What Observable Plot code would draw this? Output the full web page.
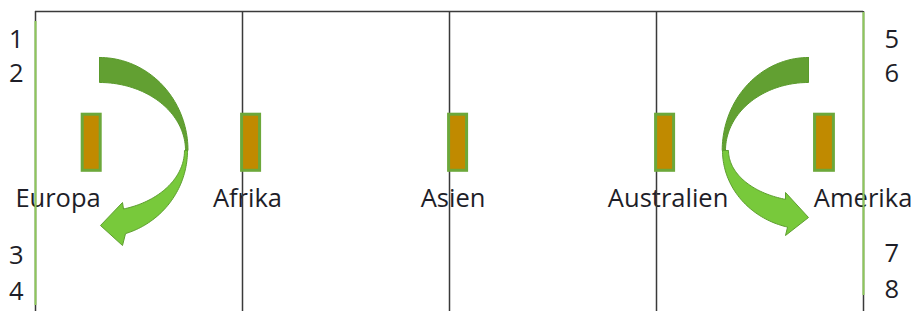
<!DOCTYPE html>
<html>
<head>
<meta charset="utf-8">
<script src="https://cdn.jsdelivr.net/npm/d3@7"></script>
<script src="https://cdn.jsdelivr.net/npm/@observablehq/plot@0.6"></script>
<style>
  html, body { margin: 0; padding: 0; background: #fff; }
  #chart svg { display: block; }
</style>
</head>
<body>
<div id="chart"></div>
<script>
// ---- data ----
const categories = ["Europa", "Afrika", "Asien", "Australien", "Amerika"];
const barStart   = [0.228, 0.998, 1.998, 2.998, 3.766];
const barEnd     = [0.315, 1.085, 2.085, 3.085, 3.857];
const barLow     = [46.9, 46.9, 46.9, 46.9, 46.9];
const barHigh    = [65.6, 65.6, 65.6, 65.6, 65.6];
const labelPos   = [0.109, 1.024, 2.017, 3.056, 3.998];
const labelLevel = 37.7;

const dividers = [0, 1, 2, 3, 4];
const leftNumbers  = ["1", "2", "3", "4"];
const leftLevels   = [90.7, 79.1, 18.7, 6.4];
const rightNumbers = ["5", "6", "7", "8"];
const rightLevels  = [90.7, 79.1, 19.1, 7.1];

// curved arrows (data units): centre, direction, arc radii, head
const arrowCx   = [0.3092, 3.7343];
const arrowCy   = [53.67, 53.67];
const arrowDir  = [1, -1];
const upOuter   = [[0.4275, 31.0], [0.4169, 31.0]];
const upInner   = [[0.4155, 22.67], [0.401, 22.67]];
const lowOuter  = [[0.4251, 29.0, 72.8], [0.4155, 26.33, 75.9]];
const lowInner  = [[0.4106, 20.33, 73.6], [0.3865, 17.0, 73.3]];
const headOuter = [[0.4203, 22.0], [3.6232, 25.33]];
const headTip   = [[0.314, 28.67], [3.7343, 31.33]];
const headInner = [[0.4203, 36.33], [3.6232, 39.67]];

// ---- build arrow outlines ----
const upperPts = [], lowerPts = [];
const N = 48;
for (let k = 0; k < arrowCx.length; k++) {
  const pt = (rx, ry, deg) => ({
    x: arrowCx[k] + arrowDir[k] * rx * Math.cos(deg * Math.PI / 180),
    y: arrowCy[k] + ry * Math.sin(deg * Math.PI / 180),
    id: k
  });
  const up = [];
  for (let i = 0; i <= N; i++) up.push(pt(upOuter[k][0], upOuter[k][1], 90 - 90 * i / N));
  for (let i = 0; i <= N; i++) up.push(pt(upInner[k][0], upInner[k][1], 90 * i / N));
  up.push(up[0]);
  upperPts.push(...up);

  const lo = [];
  for (let i = 0; i <= N; i++) lo.push(pt(lowOuter[k][0], lowOuter[k][1], -lowOuter[k][2] * i / N));
  lo.push({x: headOuter[k][0], y: headOuter[k][1], id: k});
  lo.push({x: headTip[k][0], y: headTip[k][1], id: k});
  lo.push({x: headInner[k][0], y: headInner[k][1], id: k});
  for (let i = 0; i <= N; i++) lo.push(pt(lowInner[k][0], lowInner[k][1], -lowInner[k][2] * (1 - i / N)));
  lo.push(lo[0]);
  lowerPts.push(...lo);
}

const font = "'Open Sans', 'Noto Sans', sans-serif";
const fs = 25.5;

const chart = Plot.plot({
  width: 917,
  height: 311,
  marginLeft: 35,
  marginRight: 54,
  marginTop: 11,
  marginBottom: 0,
  style: {fontFamily: font, background: "#fff"},
  x: {domain: [0, 4], axis: null},
  y: {domain: [0, 100], axis: null},
  marks: [
    Plot.text(categories, {
      x: (d, i) => labelPos[i], y: labelLevel, text: d => d,
      fontSize: fs, fontFamily: font, fill: "#1e1e28"
    }),
    Plot.ruleX(dividers, {y1: 0, y2: 100, stroke: "#3a3a3a", strokeWidth: 1.5}),
    Plot.ruleY([100], {x1: 0, x2: 4, stroke: "#3a3a3a", strokeWidth: 1.5}),
    Plot.ruleX([0], {y1: 2, y2: 96.7, stroke: "#8DC85A", strokeWidth: 2}),
    Plot.ruleX([4], {y1: 5.3, y2: 99.7, stroke: "#8DC85A", strokeWidth: 2}),
    Plot.rect(categories, {
      x1: (d, i) => barStart[i], x2: (d, i) => barEnd[i],
      y1: (d, i) => barLow[i], y2: (d, i) => barHigh[i],
      fill: "#C08A00", stroke: "#6CA83A", strokeWidth: 3
    }),
    Plot.line(upperPts, {x: "x", y: "y", z: "id", fill: "#62A032", stroke: "#5A9A2C", strokeWidth: 1}),
    Plot.line(lowerPts, {x: "x", y: "y", z: "id", fill: "#78C93B", stroke: "#5E9E30", strokeWidth: 1}),
    Plot.axisY(leftLevels, {
      anchor: "left", tickSize: 0, tickPadding: 12, label: null,
      tickFormat: d => leftNumbers[leftLevels.indexOf(d)],
      fontSize: fs, fill: "#1e1e28"
    }),
    Plot.axisY(rightLevels, {
      anchor: "right", tickSize: 0, tickPadding: 21, label: null,
      tickFormat: d => rightNumbers[rightLevels.indexOf(d)],
      fontSize: fs, fill: "#1e1e28"
    })
  ]
});
document.getElementById("chart").appendChild(chart);
</script>
</body>
</html>
